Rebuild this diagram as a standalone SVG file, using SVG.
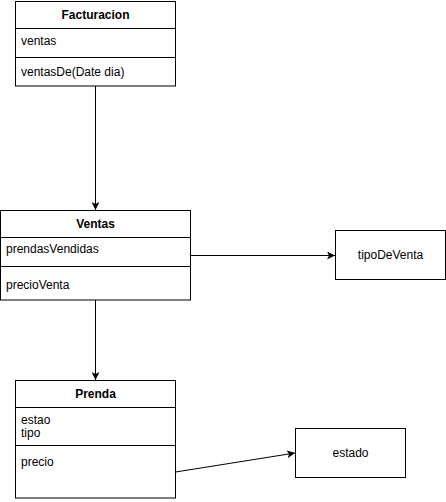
<svg xmlns="http://www.w3.org/2000/svg" width="446" height="502" viewBox="0 0 446 502">
<style>
rect{fill:#fff;stroke:#000;stroke-width:1}
line.sep{stroke:#000;stroke-width:1}
text{font-family:"Liberation Sans",Arial,sans-serif;font-size:12px;fill:#000}
.h{font-weight:bold;text-anchor:middle}
.c{text-anchor:middle}
.conn{stroke:#000;stroke-width:1;fill:none}
</style>
<defs>
<marker id="arr" viewBox="0 0 10 10" refX="10" refY="5" markerWidth="8" markerHeight="8" markerUnits="userSpaceOnUse" orient="auto">
<path d="M0,0 L10,5 L0,10 L2.5,5 Z" fill="#000"/>
</marker>
</defs>
<rect width="446" height="502" style="stroke:none"/>
<g id="connectors">
<line class="conn" x1="95.5" y1="86" x2="95.5" y2="210" marker-end="url(#arr)"/>
<line class="conn" x1="190.5" y1="255.5" x2="335" y2="255.5" marker-end="url(#arr)"/>
<line class="conn" x1="95.5" y1="300" x2="95.5" y2="380" marker-end="url(#arr)"/>
<line class="conn" x1="175.5" y1="472" x2="295" y2="453" marker-end="url(#arr)"/>
</g>
<g id="Facturacion">
<rect x="15.5" y="1.5" width="160" height="84.5"/>
<line class="sep" x1="15.5" y1="28.5" x2="175.5" y2="28.5"/>
<line class="sep" x1="15.5" y1="57.5" x2="175.5" y2="57.5"/>
<text class="h" x="95.5" y="19">Facturacion</text>
<text x="21" y="45">ventas</text>
<text x="21" y="76">ventasDe(Date dia)</text>
</g>
<g id="Ventas">
<rect x="0.5" y="210.5" width="190" height="89.5"/>
<line class="sep" x1="0.5" y1="237.5" x2="190.5" y2="237.5"/>
<line class="sep" x1="0.5" y1="266.5" x2="190.5" y2="266.5"/>
<text class="h" x="95.5" y="228">Ventas</text>
<text x="6" y="253">prendasVendidas</text>
<text x="6" y="289">precioVenta</text>
</g>
<g id="tipoDeVenta">
<rect x="335.5" y="230.5" width="110" height="49"/>
<text class="c" x="390.5" y="259">tipoDeVenta</text>
</g>
<g id="Prenda">
<rect x="15.5" y="380.5" width="160" height="117.5"/>
<line class="sep" x1="15.5" y1="407.5" x2="175.5" y2="407.5"/>
<line class="sep" x1="15.5" y1="445.5" x2="175.5" y2="445.5"/>
<text class="h" x="95.5" y="398">Prenda</text>
<text x="21" y="424">estao</text>
<text x="21" y="437">tipo</text>
<text x="21" y="466">precio</text>
</g>
<g id="estado">
<rect x="295.5" y="428.5" width="110" height="49"/>
<text class="c" x="350.5" y="457">estado</text>
</g>
</svg>
